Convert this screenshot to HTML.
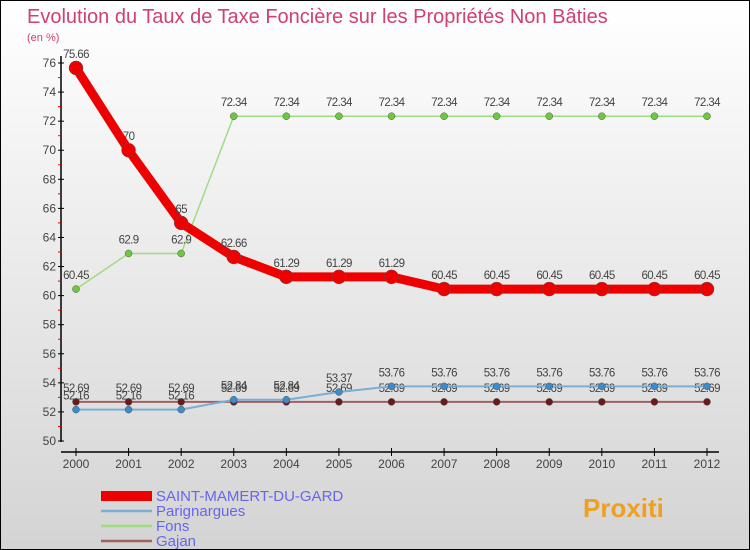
<!DOCTYPE html>
<html><head><meta charset="utf-8"><style>
body{margin:0}
#c{width:750px;height:550px;position:relative;box-sizing:border-box;border:1px solid #000;background:linear-gradient(#fff,#d4d4d4);font-family:"Liberation Sans",sans-serif;overflow:hidden}
</style></head><body>
<div id="c">
<svg id="s" width="750" height="550" style="position:absolute;left:0;top:0">
<text x="26" y="22" font-size="20" fill="#d04070">Evolution du Taux de Taxe Foncière sur les Propriétés Non Bâties</text>
<text x="26" y="40" font-size="11" fill="#d04070">(en %)</text>
</svg>
</div>
<script>
const years=[2000,2001,2002,2003,2004,2005,2006,2007,2008,2009,2010,2011,2012];
const yTicks=[50,52,54,56,58,60,62,64,66,68,70,72,74,76];
const saint=[75.66,70,65,62.66,61.29,61.29,61.29,60.45,60.45,60.45,60.45,60.45,60.45];
const parig=[52.16,52.16,52.16,52.84,52.84,53.37,53.76,53.76,53.76,53.76,53.76,53.76,53.76];
const fons=[60.45,62.9,62.9,72.34,72.34,72.34,72.34,72.34,72.34,72.34,72.34,72.34,72.34];
const gajan=[52.69,52.69,52.69,52.69,52.69,52.69,52.69,52.69,52.69,52.69,52.69,52.69,52.69];
const names=["SAINT-MAMERT-DU-GARD","Parignargues","Fons","Gajan"];
const s=document.getElementById('s');const NS='http://www.w3.org/2000/svg';
function X(i){return 75+i*(706-75)/(years.length-1);}
function Y(v){return 440-(v-50)*(440-62)/26;}
function el(t,a,p){const e=document.createElementNS(NS,t);for(const k in a)e.setAttribute(k,a[k]);(p||s).appendChild(e);return e;}
let a=el('line',{x1:60,y1:55,x2:60,y2:441,stroke:'#000','stroke-width':1.5});


a=el('line',{x1:60,y1:451,x2:718,y2:451,stroke:'#000','stroke-width':1.5});


yTicks.forEach((v,i)=>{el('line',{x1:57,x2:63,y1:Y(v),y2:Y(v),stroke:'#000'});
 if(i<yTicks.length-1)el('line',{x1:57,x2:60,y1:Y(v+1),y2:Y(v+1),stroke:'#e00'});
 const t=el('text',{x:55,y:Y(v)+4,'text-anchor':'end','font-size':12,fill:'#444'});t.textContent=v;
 
 });
years.forEach((y,i)=>{el('line',{x1:X(i),x2:X(i),y1:447,y2:455,stroke:'#000'});
 const t=el('text',{x:X(i),y:467,'text-anchor':'middle','font-size':12,fill:'#444'});t.textContent=y;
 
 });
function series(d,col,w,r,dot,name,lab){
 const g=el('g',{});
 
 
 el('polyline',{points:d.map((v,i)=>X(i)+','+Y(v)).join(' '),fill:'none',stroke:col,'stroke-width':w,'stroke-linejoin':'round'},g);
 d.forEach((v,i)=>{el('circle',{cx:X(i),cy:Y(v),r:r,fill:dot,stroke:'#555','stroke-width':0.5},g);
  if(lab){const t=el('text',{x:X(i),y:Y(v)-10,'text-anchor':'middle','font-size':11.5,fill:'#444','letter-spacing':'-0.6'},g);t.textContent=String(v);}});
}
series(gajan,'#a06060',2,3.5,'#6a1a1a','series-gajan',true);
series(parig,'#7aaed4',2,3.5,'#3a8ccc','series-parignargues',true);
series(fons,'#a0dc80',1.5,3.5,'#6cc83c','series-fons',true);
series(saint,'#ee0000',9,7,'#ee0000','series-saint-mamert',true);
const lc=['#ee0000','#7aaed4','#a0dc80','#a06060'],lw=[10,2.5,2.5,2.5];
names.forEach((n,i)=>{const y=494+i*15;
 const l=el('line',{x1:100,x2:151,y1:y+1,y2:y+1,stroke:lc[i],'stroke-width':lw[i]});
 
 
 const t=el('text',{x:155,y:y+6,'font-size':15,fill:'#6666ee'});t.textContent=n;
 
 });
const p=el('text',{x:582,y:516,'font-size':26,'font-weight':'bold',fill:'#f0a020'});p.textContent='Proxiti';


</script>
</body></html>
